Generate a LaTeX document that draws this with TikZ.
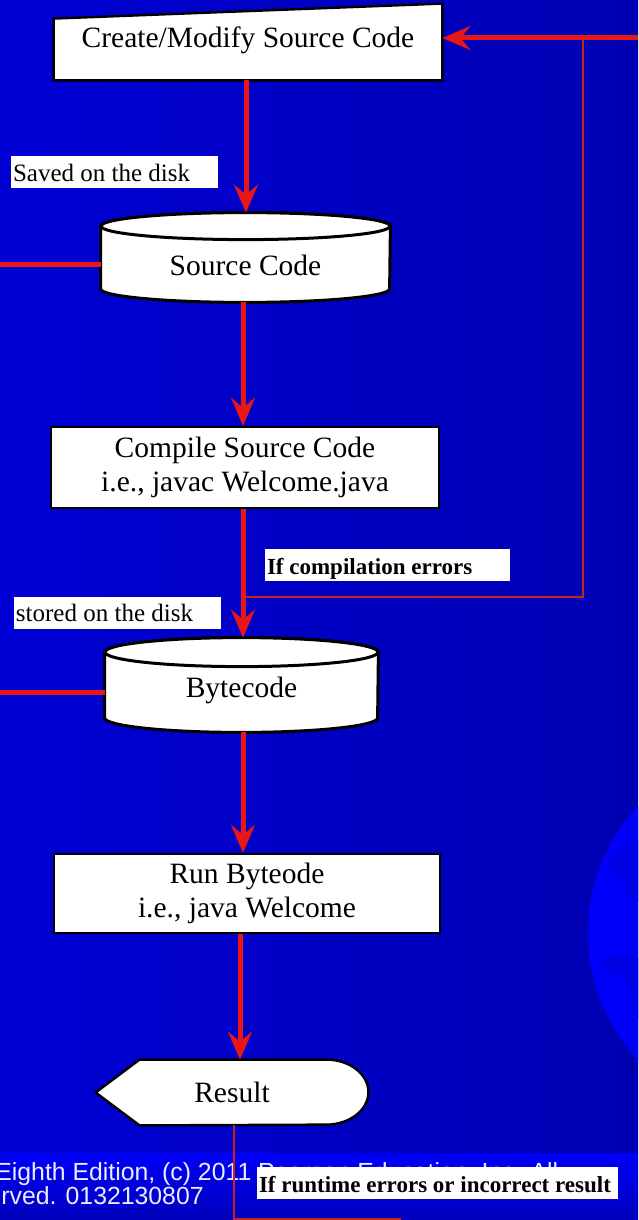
\documentclass[tikz,border=0pt]{standalone}
\usepackage{fontspec}
\setmainfont{Liberation Serif}
\newfontfamily\footfont{Liberation Sans}
\usetikzlibrary{arrows.meta,calc}

\pgfdeclarelayer{backdrop}
\pgfdeclarelayer{shapes}
\pgfsetlayers{backdrop,shapes,main}

\definecolor{bgleft}{RGB}{0,0,212}
\definecolor{bgright}{RGB}{0,0,178}
\definecolor{bandtop}{RGB}{0,0,248}
\definecolor{bandbot}{RGB}{0,0,188}
\definecolor{globeblue}{RGB}{0,0,250}
\definecolor{landblue}{RGB}{0,0,230}
\definecolor{flowred}{RGB}{232,22,22}
\definecolor{loopred}{RGB}{200,35,30}
\definecolor{credit}{RGB}{235,235,255}

% left-aligned text in a box of fixed width
\newcommand{\tagtext}[2]{\makebox[#1][l]{#2}}

\tikzset{
  bigtext/.style={font=\fontsize{14.75pt}{17.25pt}\selectfont},
  procbox/.style={rectangle, draw=black, line width=1.2pt, fill=white,
    inner sep=0pt, align=center, bigtext},
  anchorbox/.style={rectangle, inner sep=0pt, bigtext},
  outline/.style={draw=black, line width=1.2pt, fill=white},
  cylline/.style={draw=black, line width=1.5pt, fill=white},
  tag/.style={rectangle, fill=white, inner xsep=1pt, inner ysep=0pt,
    minimum height=16pt, text height=9pt, text depth=0pt,
    font=\fontsize{12.5pt}{14pt}\selectfont},
  boldtag/.style={tag, font=\fontsize{11.5pt}{13pt}\selectfont\bfseries},
  flow/.style={draw=flowred, line width=2.5pt,
    -{Stealth[length=14pt,width=12pt,inset=5pt]}},
  plainflow/.style={draw=flowred, line width=2.5pt},
  loopline/.style={draw=loopred, line width=1.3pt},
  foot/.style={inner sep=0pt, text=credit,
    font=\footfont\fontsize{12.4pt}{14pt}\selectfont},
}

\begin{document}
\begin{tikzpicture}[x=0.5pt,y=-0.5pt]
\useasboundingbox (0,0) rectangle (638,1220);

% slide backdrop, globe and footer band
\begin{pgfonlayer}{backdrop}
  \shade[left color=bgleft, right color=bgright] (0,0) rectangle (638,1153);
  \begin{scope}
    \clip (0,0) rectangle (638,1220);
    \fill[globeblue] (774,933) circle[radius=93pt];
    \fill[landblue] (622,848) .. controls (628,838) and (640,836) .. (645,846)
      -- (645,905) .. controls (632,902) and (618,880) .. (612,872)
      .. controls (606,862) and (614,852) .. cycle;
    \fill[landblue] (600,958) .. controls (620,952) and (640,956) .. (645,962)
      -- (645,1030) .. controls (636,1020) and (632,1000) .. (628,985)
      .. controls (618,975) and (604,970) .. cycle;
  \end{scope}
  \shade[top color=bandtop, bottom color=bandbot] (0,1153) rectangle (638,1220);
  \node[foot, anchor=base west] (credit1) at (-5,1180)
    {Eighth Edition, (c) 2011 Pearson Education, Inc. All};
  \node[foot, anchor=base west] (credit2) at (1,1204) {rved. 0132130807};
\end{pgfonlayer}

% flowchart nodes
\node[anchorbox, minimum width=194pt, minimum height=38pt,
      text height=10pt, text depth=4.2pt] (create) at (248,42)
      {Create/Modify Source Code};
\node[anchorbox, minimum width=144.5pt, minimum height=44.5pt,
      text height=18.3pt, text depth=0pt] (src) at (245.5,257.5) {Source Code};
\node[procbox, minimum width=194pt, minimum height=40.5pt] (compile) at (245,467.5)
      {Compile Source Code\\i.e., javac Welcome.java};
\node[anchorbox, minimum width=136.5pt, minimum height=47pt,
      text height=12.3pt, text depth=0pt] (byte) at (241.5,685) {Bytecode};
\node[procbox, minimum width=193pt, minimum height=39.5pt] (run) at (247,893.5)
      {Run Byteode\\i.e., java Welcome};
\node[anchorbox, minimum width=136pt, minimum height=32.5pt] (result) at (232,1092.5)
      {Result};

% outlines of the non-rectangular shapes
\begin{pgfonlayer}{shapes}
  \filldraw[outline] (create.south west) -- (create.south east) -- (create.north east)
    -- ($(create.north west)+(0,15)$) -- cycle;
  \filldraw[cylline] ([yshift=-6.75pt]src.north west) -- ([yshift=6.75pt]src.south west)
    arc[start angle=180, end angle=360, x radius=72.25pt, y radius=6.75pt]
    -- ([yshift=-6.75pt]src.north east)
    arc[start angle=0, end angle=180, x radius=72.25pt, y radius=6.75pt] -- cycle;
  \draw[cylline] ([yshift=-6.75pt]src.north) ellipse[x radius=72.25pt, y radius=6.75pt];
  \filldraw[cylline] ([yshift=-7.25pt]byte.north west) -- ([yshift=7.25pt]byte.south west)
    arc[start angle=180, end angle=360, x radius=68.25pt, y radius=7.25pt]
    -- ([yshift=-7.25pt]byte.north east)
    arc[start angle=0, end angle=180, x radius=68.25pt, y radius=7.25pt] -- cycle;
  \draw[cylline] ([yshift=-7.25pt]byte.north) ellipse[x radius=68.25pt, y radius=7.25pt];
  \filldraw[outline] (result.west) -- ($(result.north west)+(44,0)$)
    -- ($(result.north east)+(-42,0)$)
    arc[start angle=90, end angle=-90, x radius=21pt, y radius=16.25pt]
    -- ($(result.south west)+(44,0)$) -- cycle;
\end{pgfonlayer}

% edge labels
\node[tag] (saved) at (114.5,172) {\tagtext{101.5pt}{Saved on the disk}};
\node[tag] (stored) at (117.5,612.5) {\tagtext{101.5pt}{stored on the disk}};
\node[boldtag] (comperr) at (387.5,565) {\tagtext{120.5pt}{If compilation errors}};
\node[boldtag] (runerr) at (437.5,1183)
      {\tagtext{178.5pt}{If runtime errors or incorrect result}};

% helper points for the loops and side lines
\coordinate (srcleft) at (0,264);
\coordinate (byteleft) at (0,692);
\coordinate (errjoin) at (243,597);
\coordinate (loopcorner) at (583,597);
\coordinate (looptop) at (583,38);
\coordinate (rightedge) at (638,38);
\coordinate (resultfoot) at (234,1219);
\coordinate (runtimeend) at (401,1219);

% main flow
\draw[flow] ([xshift=-1pt]create.south) -- ([xshift=-1pt]create.south |- src.north);
\draw[flow] ([xshift=-1.25pt]src.south) -- ([xshift=-1.25pt]src.south |- compile.north);
\draw[flow] ([xshift=-1pt]compile.south) -- ([xshift=-1pt]compile.south |- byte.north);
\draw[flow] ([xshift=0.75pt]byte.south) -- ([xshift=0.75pt]byte.south |- run.north);
\draw[flow] ([xshift=-3.5pt]run.south) -- ([xshift=-3.5pt]run.south |- result.north);

% side lines and feedback loops
\draw[plainflow] (srcleft) -- (srcleft -| src.west);
\draw[plainflow] (byteleft) -- (byteleft -| byte.west);
\draw[loopline] (errjoin) -- (loopcorner) -- (looptop);
\draw[flow] (rightedge) -- (rightedge -| create.east);
\draw[loopline] ([xshift=1pt]result.south) -- (resultfoot) -- (runtimeend);
\end{tikzpicture}
\end{document}
